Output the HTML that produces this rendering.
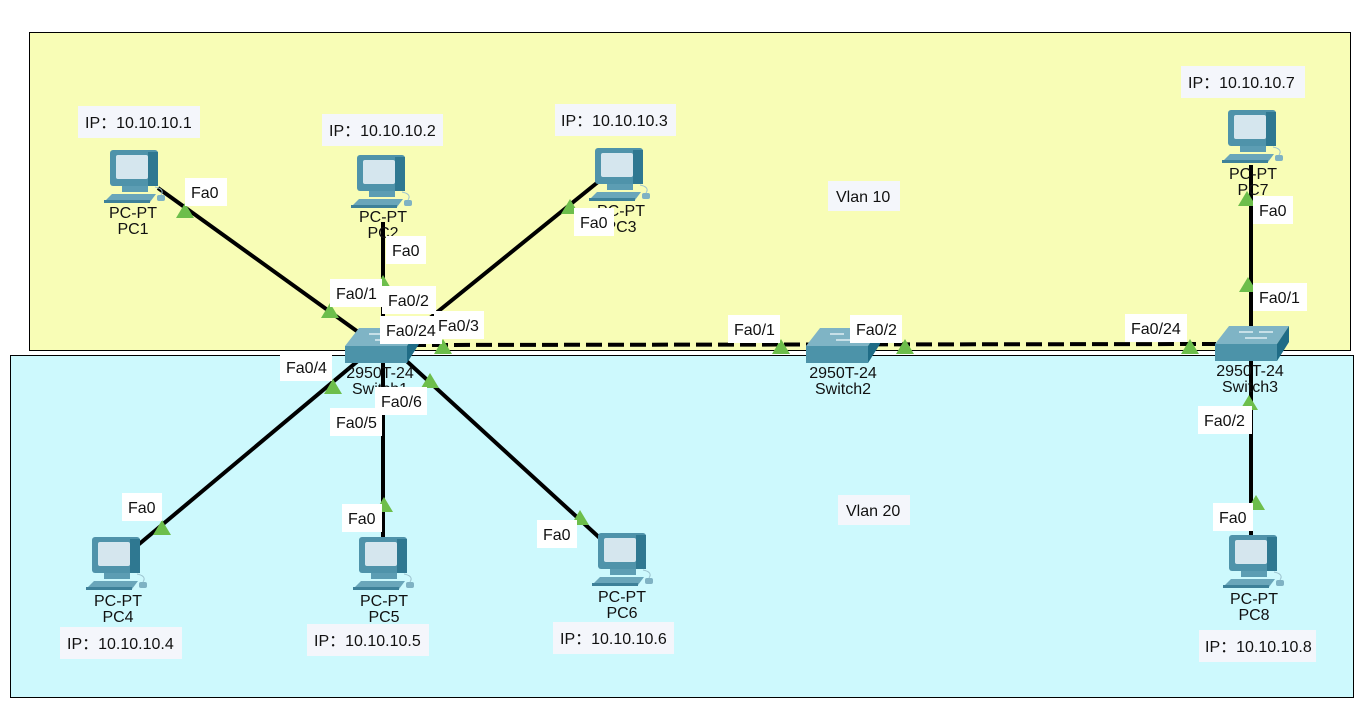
<!DOCTYPE html>
<html><head><meta charset="utf-8"><style>
html,body{margin:0;padding:0;background:#fff}
svg{display:block}
text{font-family:"Liberation Sans","Noto Sans CJK SC",sans-serif;font-size:16px;fill:#111}
</style></head><body>
<svg width="1372" height="716" viewBox="0 0 1372 716" xmlns="http://www.w3.org/2000/svg">
<defs>
<g id="pc">
<rect x="0" y="0" width="48" height="36" rx="3" fill="#4f93aa"/>
<rect x="38" y="2" width="10" height="34" fill="#2f7891"/>
<rect x="6" y="5" width="32" height="24" rx="2" fill="#d5e6ee"/>
<rect x="12" y="36" width="26" height="6" fill="#5c9db3"/>
<polygon points="-6,52 40,52 46,44 2,44" fill="#6aa6ba"/>
<rect x="-6" y="50" width="46" height="3" fill="#3e8199"/>
<rect x="47" y="45" width="8" height="6" rx="2" fill="#7fb2c3"/>
<path d="M51 45 q4 -6 -6 -8" stroke="#9cc3cf" fill="none" stroke-width="1"/>
</g>
<g id="sw">
<polygon points="14,0 74,0 62,18 0,18" fill="#7fb4c5"/>
<rect x="0" y="18" width="62" height="17" fill="#4c93a9"/>
<polygon points="62,18 74,0 74,16 62,35" fill="#1f6c86"/>
<path d="M24 6 h14 M30 12 h12 M44 6 h14 M40 12 h12" stroke="#dfeef3" stroke-width="1.5"/>
</g>
<polygon id="tri" points="-9,0 9,0 0,-15" fill="#6dbe4b"/>
</defs>
<rect x="29.5" y="32.5" width="1321" height="318" fill="#f8fdb6" stroke="#000"/>
<rect x="10.5" y="355.5" width="1343" height="342" fill="#cdf9fd" stroke="#000"/>
<g stroke="#000" stroke-width="4" fill="none">
<line x1="158" y1="188" x2="372" y2="342"/>
<line x1="383" y1="222" x2="383" y2="332"/>
<line x1="598" y1="182" x2="425" y2="322"/>
<line x1="365" y1="355" x2="138" y2="545"/>
<line x1="383" y1="355" x2="383" y2="540"/>
<line x1="400" y1="355" x2="602" y2="540"/>
<line x1="1251" y1="165" x2="1251" y2="330"/>
<line x1="1251" y1="360" x2="1251" y2="537"/>
<line x1="410" y1="345" x2="1216" y2="344" stroke-dasharray="16,6"/>
</g>
<use href="#sw" x="345" y="328"/>
<use href="#sw" x="806" y="328"/>
<use href="#sw" x="1215" y="326"/>
<use href="#pc" x="110" y="150"/>
<use href="#pc" x="357" y="155"/>
<use href="#pc" x="595" y="148"/>
<use href="#pc" x="1228" y="110"/>
<use href="#pc" x="92" y="537"/>
<use href="#pc" x="359" y="537"/>
<use href="#pc" x="598" y="533"/>
<use href="#pc" x="1229" y="535"/>
<g>
<use href="#tri" x="185" y="218"/><use href="#tri" x="330" y="318"/>
<use href="#tri" x="383" y="290"/><use href="#tri" x="570" y="214"/>
<use href="#tri" x="443" y="354"/><use href="#tri" x="333" y="394"/>
<use href="#tri" x="430" y="388"/><use href="#tri" x="162" y="535"/>
<use href="#tri" x="384" y="512"/><use href="#tri" x="580" y="525"/>
<use href="#tri" x="781" y="354"/><use href="#tri" x="905" y="354"/>
<use href="#tri" x="1190" y="354"/><use href="#tri" x="1247" y="206"/>
<use href="#tri" x="1248" y="292"/><use href="#tri" x="1249" y="410"/>
<use href="#tri" x="1256" y="510"/>
</g>
<g text-anchor="middle">
<text x="133" y="218">PC-PT</text><text x="133" y="234">PC1</text>
<text x="383" y="222">PC-PT</text><text x="383" y="238">PC2</text>
<text x="621" y="216">PC-PT</text><text x="621" y="232">PC3</text>
<text x="1253" y="179">PC-PT</text><text x="1253" y="195">PC7</text>
<text x="118" y="606">PC-PT</text><text x="118" y="622">PC4</text>
<text x="384" y="606">PC-PT</text><text x="384" y="622">PC5</text>
<text x="622" y="602">PC-PT</text><text x="622" y="618">PC6</text>
<text x="1254" y="604">PC-PT</text><text x="1254" y="620">PC8</text>
<text x="380" y="378">2950T-24</text><text x="380" y="394">Switch1</text>
<text x="843" y="378">2950T-24</text><text x="843" y="394">Switch2</text>
<text x="1250" y="376">2950T-24</text><text x="1250" y="392">Switch3</text>
</g>
<g fill="#f4f6fb">
<rect x="78" y="106" width="122" height="32"/><rect x="322" y="114" width="121" height="32"/>
<rect x="555" y="104" width="121" height="32"/><rect x="1181" y="66" width="124" height="32"/>
<rect x="60" y="627" width="122" height="32"/><rect x="307" y="624" width="122" height="32"/>
<rect x="553" y="622" width="121" height="32"/><rect x="1199" y="630" width="117" height="32"/>
<rect x="828" y="181" width="72" height="30"/><rect x="838" y="495" width="72" height="30"/>
</g>
<g>
<text x="85" y="128">IP：10.10.10.1</text><text x="329" y="136">IP：10.10.10.2</text>
<text x="561" y="126">IP：10.10.10.3</text><text x="1188" y="88">IP：10.10.10.7</text>
<text x="67" y="649">IP：10.10.10.4</text><text x="314" y="646">IP：10.10.10.5</text>
<text x="560" y="644">IP：10.10.10.6</text><text x="1205" y="652">IP：10.10.10.8</text>
<text x="836" y="202">Vlan 10</text><text x="846" y="516">Vlan 20</text>
</g>
<g fill="#fff">
<rect x="185" y="178" width="42" height="28"/><rect x="330" y="279" width="52" height="28"/>
<rect x="382" y="286" width="54" height="28"/><rect x="386" y="236" width="40" height="28"/>
<rect x="574" y="208" width="40" height="28"/><rect x="434" y="311" width="50" height="28"/>
<rect x="380" y="316" width="62" height="28"/><rect x="280" y="353" width="52" height="28"/>
<rect x="330" y="408" width="52" height="28"/><rect x="375" y="387" width="52" height="28"/>
<rect x="122" y="493" width="40" height="28"/><rect x="342" y="504" width="40" height="28"/>
<rect x="537" y="520" width="40" height="28"/><rect x="728" y="315" width="52" height="28"/>
<rect x="850" y="315" width="52" height="28"/><rect x="1125" y="314" width="62" height="28"/>
<rect x="1253" y="196" width="40" height="28"/><rect x="1253" y="283" width="54" height="28"/>
<rect x="1198" y="406" width="54" height="28"/><rect x="1213" y="503" width="40" height="28"/>
</g>
<g>
<text x="191" y="198">Fa0</text><text x="336" y="299">Fa0/1</text>
<text x="388" y="306">Fa0/2</text><text x="392" y="256">Fa0</text>
<text x="580" y="228">Fa0</text><text x="438" y="331">Fa0/3</text>
<text x="386" y="336">Fa0/24</text><text x="286" y="373">Fa0/4</text>
<text x="336" y="428">Fa0/5</text><text x="381" y="407">Fa0/6</text>
<text x="128" y="513">Fa0</text><text x="348" y="524">Fa0</text>
<text x="543" y="540">Fa0</text><text x="734" y="335">Fa0/1</text>
<text x="856" y="335">Fa0/2</text><text x="1131" y="334">Fa0/24</text>
<text x="1259" y="216">Fa0</text><text x="1259" y="303">Fa0/1</text>
<text x="1204" y="426">Fa0/2</text><text x="1219" y="523">Fa0</text>
</g>
</svg>
</body></html>
